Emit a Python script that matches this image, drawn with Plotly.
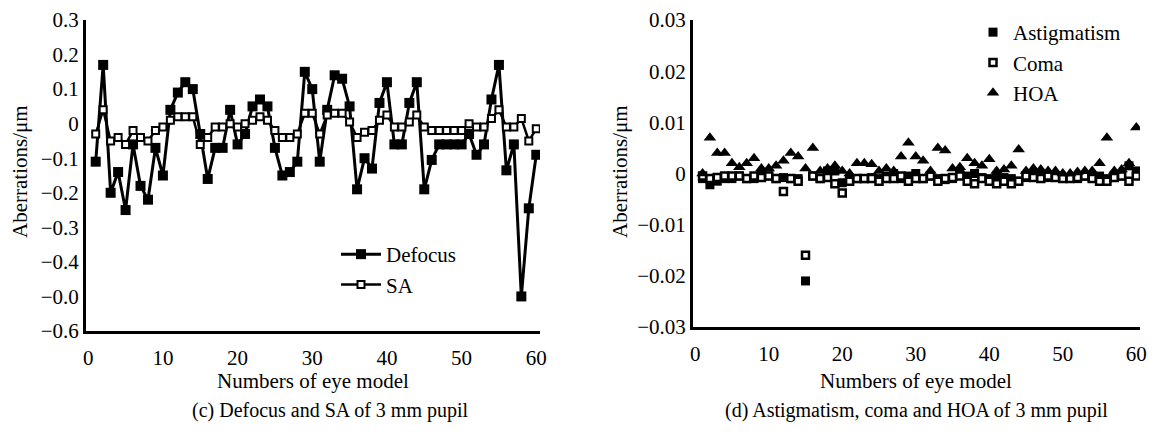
import plotly.graph_objects as go
from plotly.subplots import make_subplots

# eye model numbers
eye_no = list(range(1, 61))

# (c) defocus and spherical aberration, 3 mm pupil (um)
defocus = [-0.11, 0.17, -0.20, -0.14, -0.25, -0.06, -0.18, -0.22, -0.07, -0.15,
           0.04, 0.09, 0.12, 0.10, -0.03, -0.16, -0.07, -0.07, 0.04, -0.06,
           -0.03, 0.05, 0.07, 0.05, -0.07, -0.15, -0.14, -0.11, 0.15, 0.10,
           -0.11, 0.04, 0.14, 0.13, 0.05, -0.19, -0.10, -0.13, 0.06, 0.12,
           -0.06, -0.06, 0.06, 0.12, -0.19, -0.105, -0.06, -0.06, -0.06, -0.06,
           -0.03, -0.09, -0.06, 0.07, 0.17, -0.135, -0.06, -0.50, -0.245, -0.09]
sa = [-0.03, 0.04, -0.05, -0.04, -0.06, -0.02, -0.04, -0.05, -0.02, -0.01,
      0.01, 0.02, 0.02, 0.02, -0.06, -0.04, -0.01, -0.01, 0.0, -0.01,
      0.0, 0.01, 0.02, 0.01, -0.02, -0.04, -0.04, -0.03, 0.03, 0.03,
      -0.03, 0.025, 0.03, 0.03, 0.005, -0.04, -0.025, -0.02, 0.01, 0.025,
      -0.01, -0.01, 0.005, 0.025, -0.01, -0.02, -0.02, -0.02, -0.02, -0.02,
      0.0, -0.01, -0.01, 0.015, 0.04, -0.01, -0.01, 0.015, -0.05, -0.015]

# (d) astigmatism, coma and HOA, 3 mm pupil (um)
astig = [-0.001, -0.0022, -0.0015, -0.001, -0.001, -0.0005, -0.001, -0.001, 0.0, -0.0005,
         -0.001, -0.0008, -0.001, -0.001, -0.021, -0.0005, -0.001, 0.0005, 0.0005, -0.0018,
         -0.0012, -0.001, -0.001, -0.0008, -0.001, -0.0005, 0.0, -0.001, -0.0005, 0.0,
         -0.001, -0.0005, -0.001, -0.0012, -0.001, 0.0, -0.0005, 0.0, -0.0008, -0.001,
         -0.0005, -0.0008, -0.001, -0.0015, -0.0008, 0.0, -0.0005, -0.0008, -0.0005, -0.0008,
         -0.0008, -0.001, -0.0005, -0.0008, -0.0005, -0.001, -0.0005, -0.0005, 0.0015, 0.0005]
coma = [-0.0005, -0.001, -0.0008, -0.0005, -0.0005, -0.0005, -0.001, -0.0005, -0.0008, -0.0005,
        -0.001, -0.0035, -0.001, -0.0015, -0.016, -0.0005, -0.001, -0.0008, -0.002, -0.0038,
        -0.0015, -0.001, -0.001, -0.001, -0.0015, -0.001, -0.001, -0.0005, -0.0015, -0.001,
        -0.001, -0.0005, -0.0015, -0.001, -0.0008, -0.0005, -0.0015, -0.002, -0.001, -0.0015,
        -0.002, -0.0015, -0.002, -0.0015, -0.0005, -0.0008, -0.001, -0.0005, -0.0008, -0.001,
        -0.001, -0.0008, -0.0005, -0.001, -0.0015, -0.0015, -0.0008, -0.0005, -0.0015, -0.0005]
hoa = [0.0, 0.007, 0.004, 0.004, 0.002, 0.0012, 0.002, 0.003, 0.001, 0.001,
       0.0015, 0.0025, 0.004, 0.0033, 0.001, 0.005, 0.0005, 0.001, 0.0015, 0.0005,
       0.0, 0.002, 0.002, 0.0018, 0.0005, 0.001, 0.0005, 0.0033, 0.006, 0.0033,
       0.0025, 0.0005, 0.005, 0.0045, 0.001, 0.0012, 0.003, 0.002, 0.0015, 0.0028,
       0.0005, 0.0008, 0.0015, 0.0047, 0.0005, 0.001, 0.0008, 0.0005, 0.0005, 0.0,
       0.0, 0.0003, 0.0005, 0.0005, 0.002, 0.007, 0.0005, 0.0008, 0.002, 0.009]

left_ticks = [0.3, 0.2, 0.1, 0, -0.1, -0.2, -0.3, -0.4, -0.5, -0.6]
left_labels = ['0.3', '0.2', '0.1', '0', '−0.1', '−0.2', '−0.3', '−0.4', '−0.0', '−0.6']
right_ticks = [0.03, 0.02, 0.01, 0, -0.01, -0.02, -0.03]
right_labels = ['0.03', '0.02', '0.01', '0', '−0.01', '−0.02', '−0.03']
x_ticks = [0, 10, 20, 30, 40, 50, 60]

FONT = 'Liberation Serif'
W, H = 1155, 434
OFF = 8  # page body margin pushes the figure 8px right/down


def px(p):
    return (p - OFF) / W


def py(p):
    return 1 - (p - OFF) / H


fig = make_subplots(rows=1, cols=2)

fig.add_trace(go.Scatter(x=eye_no, y=defocus, name='Defocus', mode='lines+markers',
                         line=dict(color='black', width=3),
                         marker=dict(symbol='square', size=10, color='black'),
                         legend='legend'), row=1, col=1)
fig.add_trace(go.Scatter(x=eye_no, y=sa, name='SA', mode='lines+markers',
                         line=dict(color='black', width=2.5),
                         marker=dict(symbol='square', size=7, color='white',
                                     line=dict(color='black', width=2)),
                         legend='legend'), row=1, col=1)

fig.add_trace(go.Scatter(x=eye_no, y=astig, name='Astigmatism', mode='markers',
                         marker=dict(symbol='square', size=9, color='black'),
                         legend='legend2'), row=1, col=2)
fig.add_trace(go.Scatter(x=eye_no, y=coma, name='Coma', mode='markers',
                         marker=dict(symbol='square', size=7, color='white',
                                     line=dict(color='black', width=2.5)),
                         legend='legend2'), row=1, col=2)
fig.add_trace(go.Scatter(x=eye_no, y=hoa, name='HOA', mode='markers',
                         marker=dict(symbol='triangle-up', size=11, color='black'),
                         legend='legend2'), row=1, col=2)

axis_style = dict(showline=True, linecolor='black', linewidth=3, showgrid=False,
                  zeroline=False, ticks='', automargin=False, ticklabeloverflow='allow',
                  tickfont=dict(family=FONT, size=21, color='black'))

fig.update_xaxes(axis_style, range=[-0.3, 60.5], tickvals=x_ticks, ticklabelstandoff=6)
fig.update_xaxes(domain=[px(86), px(540)], row=1, col=1)
fig.update_xaxes(domain=[px(693), px(1140)], row=1, col=2)
fig.update_yaxes(axis_style, ticklabelstandoff=0)
fig.update_yaxes(domain=[py(331), py(20)], range=[-0.6, 0.3],
                 tickvals=left_ticks, ticktext=left_labels, row=1, col=1)
fig.update_yaxes(domain=[py(327), py(20)], range=[-0.03, 0.03],
                 tickvals=right_ticks, ticktext=right_labels, row=1, col=2)

title_font = dict(family=FONT, size=21, color='black')
caption_font = dict(family=FONT, size=20, color='black')
notes = [
    dict(x=px(313), y=py(381), text='Numbers of eye model', textangle=0, font=title_font),
    dict(x=px(330), y=py(410), text='(c) Defocus and SA of 3 mm pupil', textangle=0, font=caption_font),
    dict(x=px(20), y=py(172), text='Aberrations/μm', textangle=-90, font=title_font),
    dict(x=px(916), y=py(381), text='Numbers of eye model', textangle=0, font=title_font),
    dict(x=px(916), y=py(410), text='(d) Astigmatism, coma and HOA of 3 mm pupil', textangle=0, font=caption_font),
    dict(x=px(620), y=py(172), text='Aberrations/μm', textangle=-90, font=title_font),
]
for n in notes:
    fig.add_annotation(xref='paper', yref='paper', showarrow=False,
                       xanchor='center', yanchor='middle', **n)

fig.update_layout(
    width=W, height=H,
    margin=dict(l=0, r=0, t=0, b=0, autoexpand=False),
    paper_bgcolor='white', plot_bgcolor='white',
    font=dict(family=FONT, color='black'),
    legend=dict(x=px(336), y=py(234), xanchor='left', yanchor='top',
                bgcolor='rgba(0,0,0,0)', font=dict(family=FONT, size=21),
                tracegroupgap=0, itemwidth=40),
    legend2=dict(x=px(973), y=py(12), xanchor='left', yanchor='top',
                 bgcolor='rgba(0,0,0,0)', font=dict(family=FONT, size=21),
                 tracegroupgap=0),
)

fig.write_html("out.html")
